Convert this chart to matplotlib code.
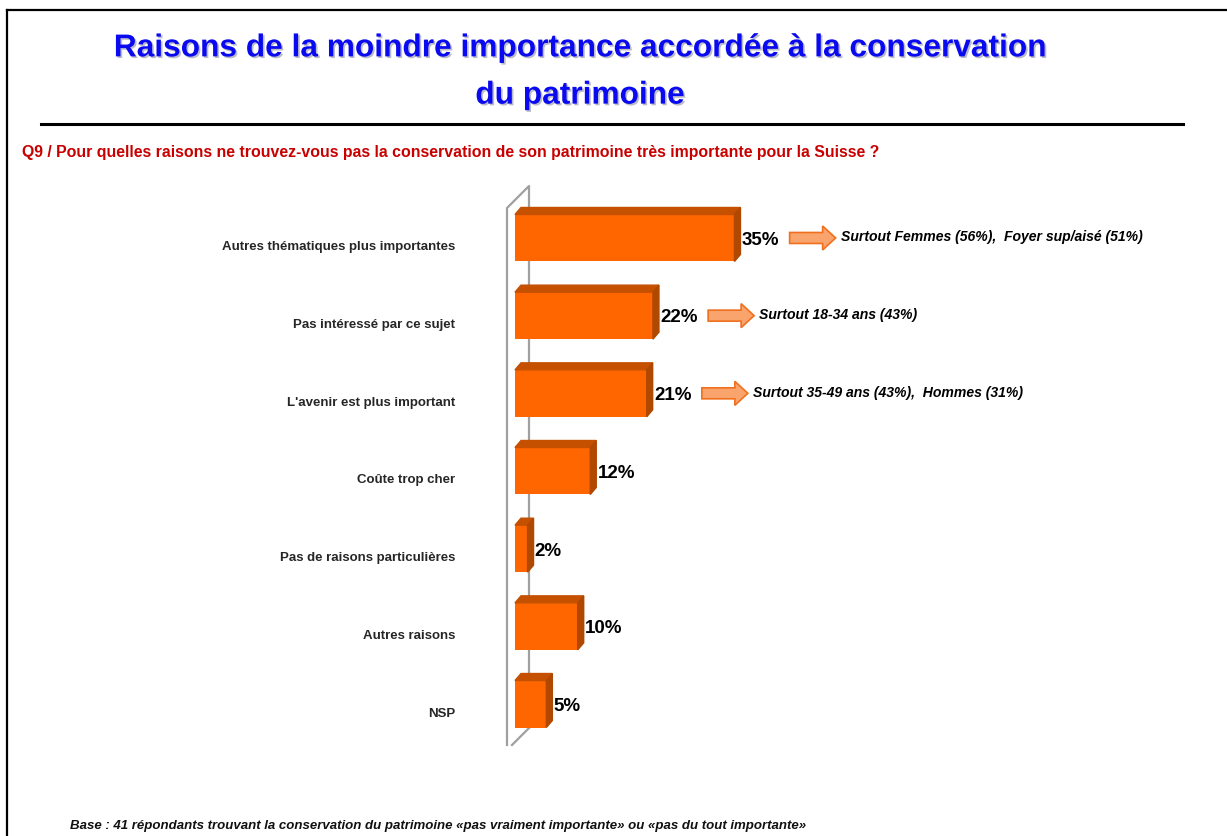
import matplotlib
matplotlib.use('Agg')
import matplotlib.pyplot as plt
import matplotlib.patheffects as pe
from matplotlib.patches import Polygon, FancyArrow
from matplotlib.lines import Line2D
from matplotlib.transforms import ScaledTranslation
from matplotlib import font_manager

# données
categories = ["Autres thématiques plus importantes", "Pas intéressé par ce sujet",
              "L'avenir est plus important", "Coûte trop cher",
              "Pas de raisons particulières", "Autres raisons", "NSP"]
values = [35, 22, 21, 12, 2, 10, 5]
value_labels = ["35%", "22%", "21%", "12%", "2%", "10%", "5%"]
notes = {0: "Surtout Femmes (56%),  Foyer sup/aisé (51%)",
         1: "Surtout 18-34 ans (43%)",
         2: "Surtout 35-49 ans (43%),  Hommes (31%)"}

title = "Raisons de la moindre importance accordée à la conservation\ndu patrimoine"
question = ("Q9 / Pour quelles raisons ne trouvez-vous pas la conservation de son "
            "patrimoine très importante pour la Suisse ?")
footnote = ("Base : 41 répondants trouvant la conservation du patrimoine "
            "«pas vraiment importante» ou «pas du tout importante»")

names = {f.name for f in font_manager.fontManager.ttflist}
narrow = ['Liberation Sans Narrow', 'Liberation Sans', 'DejaVu Sans']
narrow = [f for f in narrow if f in names] or ['DejaVu Sans']
wide = ['Liberation Sans', 'DejaVu Sans']

W, H = 1227, 836
fig = plt.figure(figsize=(W / 100, H / 100), dpi=100)


def fx(x):
    return x / W


def fy(y):
    return 1 - y / H


# cadre et ligne de séparation
fig.add_artist(Line2D([fx(7), fx(7)], [fy(10), fy(836)], color='black', lw=1.6))
fig.add_artist(Line2D([fx(7), fx(1227)], [fy(10), fy(10)], color='black', lw=1.6))
fig.add_artist(Line2D([fx(41), fx(1183)], [fy(124), fy(124)], color='black', lw=2.2))

fig.text(fx(580), fy(72), title, ha='center', va='center', fontsize=22.8,
         fontweight='bold', color='#0A0AF0', family=wide, linespacing=1.75,
         path_effects=[pe.SimplePatchShadow(offset=(1.2, -1.2), shadow_rgbFace='#A0A0B0', alpha=0.7),
                       pe.Normal()])
fig.text(fx(22), fy(152), question, ha='left', va='center', fontsize=11.4,
         fontweight='bold', color='#C80000', family=narrow)
fig.text(fx(70), fy(826), footnote, ha='left', va='center', fontsize=9.5,
         fontweight='bold', style='italic', color='#111111', family=narrow)

# axes : 6.27 px par %, 77.7 px par ligne
pxx, pxy = 6.27, 77.7
x0 = -2.0
ax = fig.add_axes([fx(515 + x0 * pxx), fy(745), (1183 - 515 - x0 * pxx) / W, (745 - 186) / H])
ax.set_xlim(x0, (1183 - 515) / pxx)
ax.set_ylim(6 + (745 - 704) / pxy, -(238 - 186) / pxy)
for s in ax.spines.values():
    s.set_visible(False)
ax.set_xticks([])
ax.set_facecolor('none')

ypos = list(range(len(categories)))
ax.set_yticks(ypos)
ax.set_yticklabels(categories, fontsize=9.5, fontweight='bold', color='#262626', family=narrow)
ax.tick_params(axis='y', length=0, pad=34)
for lab in ax.get_yticklabels():
    lab.set_transform(lab.get_transform() + ScaledTranslation(0, -8 / 100, fig.dpi_scale_trans))

# mur 3D
fl, bl = -8 / pxx, 14 / pxx
ytop_b, ytop_f = -(238 - 186) / pxy, -(238 - 208) / pxy
ybot_f, ybot_b = 6 + (745 - 704) / pxy, 6 + (728 - 704) / pxy
wall = dict(color='#A0A0A0', lw=1.6, clip_on=False)
ax.plot([fl, fl, bl, bl], [ybot_f, ytop_f, ytop_b, ybot_b], zorder=1, **wall)
ax.plot([fl + 5 / pxx, bl], [ybot_f, ybot_b], zorder=1, **wall)

h = 47 / pxy
dx, dy = 6 / pxx, 7 / pxy
ax.barh(ypos, values, height=h, left=0, color='#FF6600', zorder=3)
for y, v, lbl in zip(ypos, values, value_labels):
    top = y - h / 2
    ax.add_patch(Polygon([(0, top), (v, top), (v + dx, top - dy), (dx, top - dy)],
                         closed=True, color='#C45000', zorder=3))
    ax.add_patch(Polygon([(v, top), (v + dx, top - dy), (v + dx, top + h - dy), (v, top + h)],
                         closed=True, color='#B04800', zorder=3))
    ax.text(v + dx + 0.2, y + 0.03, lbl, ha='left', va='center', fontsize=13.5,
            fontweight='bold', color='black', family=narrow, zorder=4)

# flèches et commentaires
for i, txt in notes.items():
    v = values[i]
    xs = v + 8.8
    ax.add_patch(FancyArrow(xs, i, 46 / pxx - 13 / pxx, 0, width=11 / pxy,
                            head_width=24 / pxy, head_length=13 / pxx,
                            length_includes_head=False, fc='#F9A46C', ec='#F07020',
                            lw=1.2, zorder=4))
    ax.text(xs + 51 / pxx, i - 0.01, txt, ha='left', va='center', fontsize=10.1,
            fontweight='bold', style='italic', color='black', family=narrow, zorder=4)

fig.savefig('out.png', dpi=100)
